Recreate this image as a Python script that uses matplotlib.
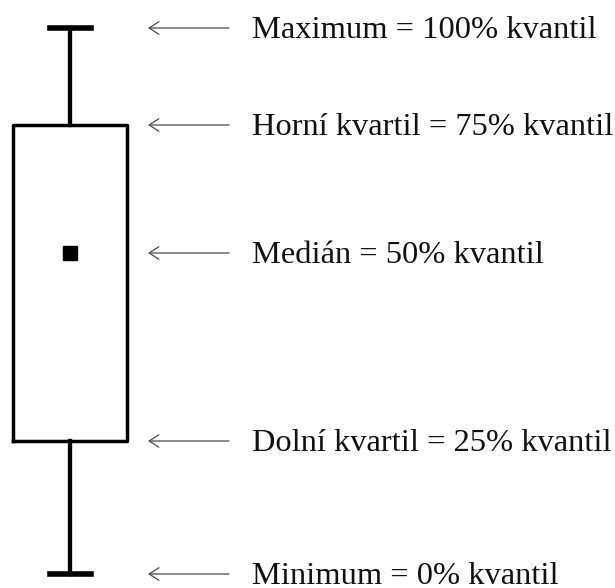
import matplotlib
matplotlib.use("Agg")
import matplotlib.pyplot as plt

# schematic box plot values (vertical position on a 0..588 scale)
stat_names = ["Maximum", "Horní kvartil", "Medián", "Dolní kvartil", "Minimum"]
stat_values = [560, 463, 335, 147, 14]
labels = [
    "Maximum = 100% kvantil",
    "Horní kvartil = 75% kvantil",
    "Medián = 50% kvantil",
    "Dolní kvartil = 25% kvantil",
    "Minimum = 0% kvantil",
]

whishi, q3, med, q1, whislo = stat_values
stats = [dict(med=med, q1=q1, q3=q3, whislo=whislo, whishi=whishi, fliers=[])]

fig = plt.figure(figsize=(6.15, 5.88), dpi=100)
ax = fig.add_axes([0, 0, 1, 1])
ax.set_xlim(0, 615)
ax.set_ylim(0, 588)
ax.axis("off")

ax.bxp(stats, positions=[70], widths=114, capwidths=41,
       boxprops=dict(color="black", linewidth=2.5),
       whiskerprops=dict(color="black", linewidth=3.1),
       capprops=dict(color="black", linewidth=4.0),
       medianprops=dict(linestyle="none"),
       manage_ticks=False)
ax.plot(70, med, marker="s", markersize=10, color="black", linestyle="none")

for val, lab in zip(stat_values, labels):
    ax.annotate("", xy=(148, val), xytext=(229, val),
                arrowprops=dict(arrowstyle="->,head_length=0.7,head_width=0.45",
                                color="#4a4a4a", linewidth=0.9,
                                shrinkA=0, shrinkB=0))
    ax.text(252, val - 10, lab, fontsize=23.4, family="Liberation Serif",
            color="#111111", va="baseline", ha="left")

fig.savefig("out.png", dpi=100)
